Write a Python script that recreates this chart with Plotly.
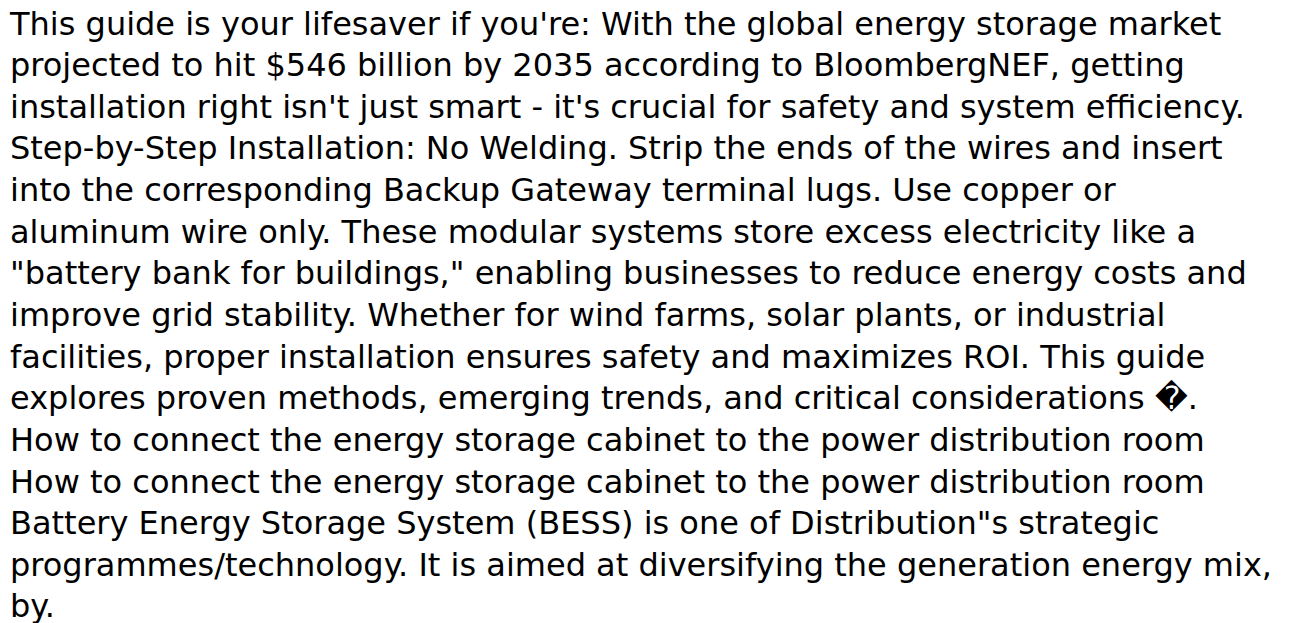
import plotly.graph_objects as go

lines = [
    "This guide is your lifesaver if you're: With the global energy storage market",
    "projected to hit $546 billion by 2035 according to BloombergNEF, getting",
    "installation right isn't just smart - it's crucial for safety and system efficiency.",
    "Step-by-Step Installation: No Welding. Strip the ends of the wires and insert",
    "into the corresponding Backup Gateway terminal lugs. Use copper or",
    "aluminum wire only. These modular systems store excess electricity like a",
    "\"battery bank for buildings,\" enabling businesses to reduce energy costs and",
    "improve grid stability. Whether for wind farms, solar plants, or industrial",
    "facilities, proper installation ensures safety and maximizes ROI. This guide",
    "explores proven methods, emerging trends, and critical considerations \ufffd.",
    "How to connect the energy storage cabinet to the power distribution room",
    "How to connect the energy storage cabinet to the power distribution room",
    "Battery Energy Storage System (BESS) is one of Distribution\"s strategic",
    "programmes/technology. It is aimed at diversifying the generation energy mix,",
    "by.",
]
line_index = list(range(len(lines)))

fig = go.Figure(
    go.Scatter(
        x=[0] * len(lines),
        y=line_index,
        text=lines,
        mode="text",
        textposition="middle right",
        textfont=dict(family="DejaVu Sans", size=32, color="#000000"),
        hoverinfo="skip",
        cliponaxis=False,
    )
)

fig.update_layout(
    width=1290,
    height=623,
    margin=dict(l=2, r=0, t=0, b=0),
    paper_bgcolor="white",
    plot_bgcolor="white",
    showlegend=False,
    xaxis=dict(visible=False, range=[0, 1], fixedrange=True),
    yaxis=dict(visible=False, range=[14.518, -0.444], fixedrange=True),
)

fig.write_html("out.html", config={"displayModeBar": False})
